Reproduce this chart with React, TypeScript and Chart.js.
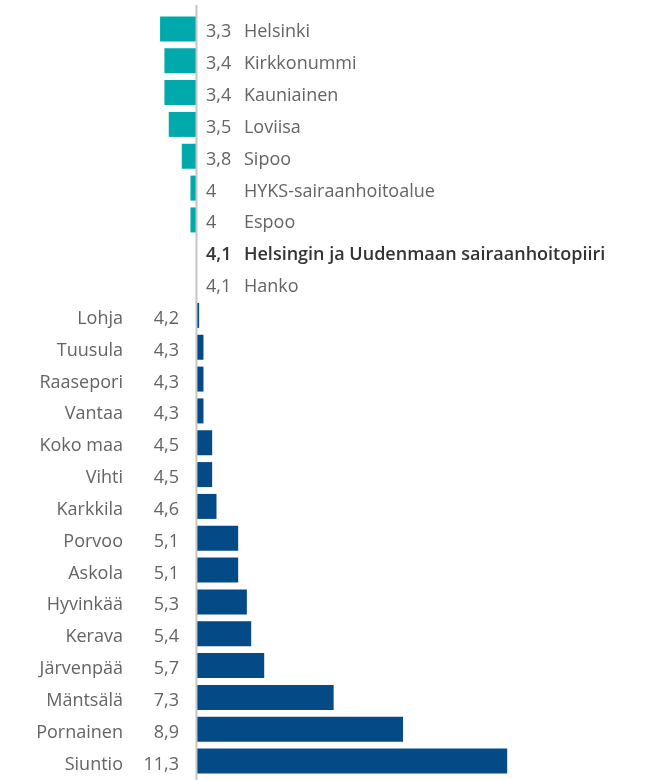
import React, { useEffect, useRef } from "react";
import { Chart, registerables } from "chart.js";

Chart.register(...registerables);

const categories: string[] = [
  "Helsinki",
  "Kirkkonummi",
  "Kauniainen",
  "Loviisa",
  "Sipoo",
  "HYKS-sairaanhoitoalue",
  "Espoo",
  "Helsingin ja Uudenmaan sairaanhoitopiiri",
  "Hanko",
  "Lohja",
  "Tuusula",
  "Raasepori",
  "Vantaa",
  "Koko maa",
  "Vihti",
  "Karkkila",
  "Porvoo",
  "Askola",
  "Hyvinkää",
  "Kerava",
  "Järvenpää",
  "Mäntsälä",
  "Pornainen",
  "Siuntio",
];

const values: number[] = [
  3.3, 3.4, 3.4, 3.5, 3.8, 4.0, 4.0, 4.1, 4.1, 4.2, 4.3, 4.3, 4.3, 4.5, 4.5, 4.6,
  5.1, 5.1, 5.3, 5.4, 5.7, 7.3, 8.9, 11.3,
];

const REFERENCE_NAME = "Helsingin ja Uudenmaan sairaanhoitopiiri";
const REFERENCE_VALUE = 4.1;
// estimated unrounded reference level where bars start
const BAR_BASE = 4.15;

const X_MIN = -0.39;
const X_MAX = 14.5;

const LOW_COLOR = "#00a9ac";
const HIGH_COLOR = "#034a87";
const FONT = "'Open Sans', 'Noto Sans', sans-serif";

const fmt = (v: number) =>
  Number.isInteger(v) ? String(v) : v.toFixed(1).replace(".", ",");

const labelPlugin = {
  id: "sideLabels",
  afterDatasetsDraw(chart: any) {
    const { ctx, scales } = chart;
    const xs = scales.x;
    const ys = scales.y;
    const x0 = xs.getPixelForValue(BAR_BASE);
    ctx.save();
    // axis line
    ctx.strokeStyle = "#c6c6c6";
    ctx.lineWidth = 2;
    ctx.beginPath();
    ctx.moveTo(x0 - 0.5, 5);
    ctx.lineTo(x0 - 0.5, chart.height);
    ctx.stroke();

    categories.forEach((name, i) => {
      const v = values[i];
      const y = ys.getPixelForValue(i) + 8.5;
      const isRef = name === REFERENCE_NAME;
      ctx.font = `${isRef ? 600 : 400} 18px ${FONT}`;
      ctx.fillStyle = isRef ? "#333333" : "#646464";
      ctx.textBaseline = "alphabetic";
      if (v <= REFERENCE_VALUE) {
        ctx.textAlign = "left";
        ctx.fillText(fmt(v), x0 + 9, y);
        ctx.fillText(name, x0 + 47, y);
      } else {
        ctx.textAlign = "right";
        ctx.fillText(fmt(v), x0 - 18, y);
        ctx.fillText(name, x0 - 74, y);
      }
    });
    ctx.restore();
  },
};

export default function App() {
  const ref = useRef<HTMLCanvasElement | null>(null);

  useEffect(() => {
    document.body.style.margin = "0";
    const canvas = ref.current;
    if (!canvas) return;
    const barData = values.map((v) =>
      Math.abs(v - REFERENCE_VALUE) < 1e-9 ? null : [BAR_BASE, v]
    );
    const colors = values.map((v) => (v < REFERENCE_VALUE ? LOW_COLOR : HIGH_COLOR));
    const chart = new Chart(canvas, {
      type: "bar",
      data: {
        labels: categories,
        datasets: [
          {
            data: barData as any,
            backgroundColor: colors,
            borderWidth: 0,
            barPercentage: 0.785,
            categoryPercentage: 1,
          },
        ],
      },
      options: {
        indexAxis: "y",
        responsive: false,
        animation: false,
        layout: { padding: { top: 13, bottom: 3, left: 0, right: 0 } },
        plugins: {
          legend: { display: false },
          tooltip: { enabled: false },
        },
        scales: {
          x: { type: "linear", min: X_MIN, max: X_MAX, display: false },
          y: { type: "category", display: false },
        },
      },
      plugins: [labelPlugin],
    });
    return () => chart.destroy();
  }, []);

  return (
    <div style={{ width: 646, height: 780, overflow: "hidden" }}>
      <canvas ref={ref} width={646} height={780} style={{ display: "block" }} />
    </div>
  );
}
